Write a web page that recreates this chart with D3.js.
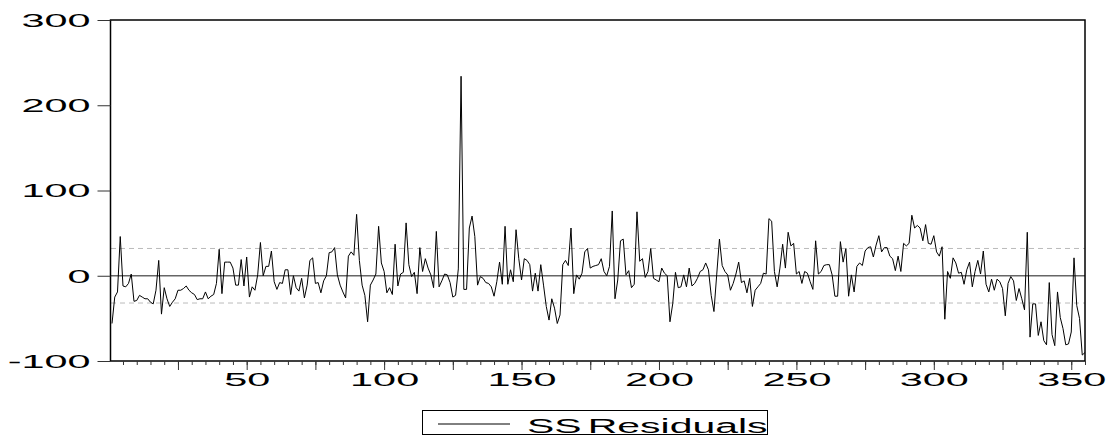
<!DOCTYPE html>
<html>
<head>
<meta charset="utf-8">
<script src="https://cdn.jsdelivr.net/npm/d3@7"></script>
<style>
  body { margin: 0; background: #fff; }
  svg text { font-family: "Liberation Sans", Arial, sans-serif; fill: #000; }
</style>
</head>
<body>
<div id="chart"></div>
<script>
let residuals = [
  -56, -25, -19, 46, -12, -13, -9, 2, -30, -29, -23, -25, -27, -27, -31, -33, -17, 18, -45, -14,
  -27, -36, -31, -27, -17, -17, -15, -12, -17, -20, -22, -28, -27, -27, -19, -27, -24, -22, -9, 31,
  -21, 16, 16, 16, 9, -11, -11, 19, -12, 22, -25, -13, -17, 1, 39, 0, 11, 11, 29, -7,
  -16, -8, -9, 7, 7, -22, 0, -14, -18, -3, -26, -11, 18, 21, -9, -8, -20, -6, 0, 27,
  28, 33, 1, -11, -19, -26, 23, 28, 24, 72, 18, -11, -23, -54, -11, -5, 2, 58, 15, 5,
  -20, -14, -22, 37, -12, 2, 4, 62, 13, -1, 4, -21, 33, 5, 20, 9, 1, -14, 52, -13,
  -6, 2, 1, -8, -25, -23, 8, 234, -16, -16, 56, 70, 46, -11, -1, -3, -8, -9, -13, -24,
  -7, 16, -10, 58, -10, 7, -7, 54, 20, -5, 20, 18, 13, -18, 3, -18, 13, -11, -36, -52,
  -27, -38, -56, -46, 13, 18, 12, 56, -21, 1, -4, 3, 28, 32, 9, 11, 12, 13, 20, 5,
  0, 11, 76, -27, -5, 41, 43, 1, 6, -14, -10, 75, 17, 20, -2, 5, 32, -3, -5, -7,
  9, 3, 0, -54, -33, 4, -14, -13, 1, -13, 9, -12, -9, -3, 5, 7, 15, 7, -23, -42,
  1, 43, 12, 5, 1, -17, -9, 2, 16, -8, -6, -20, -3, -36, -17, -13, -9, 3, 2, 67,
  64, 5, -13, 9, 37, 9, 51, 35, 38, 2, 5, -9, 5, 3, -7, -16, 41, 2, 5, 12,
  13, 13, 1, -24, -24, 40, 16, 32, -24, 1, -19, 11, 15, 12, 29, 33, 34, 22, 36, 47,
  28, 33, 33, 23, 20, 6, 23, 5, 38, 35, 38, 71, 56, 59, 56, 41, 60, 38, 37, 47,
  28, 23, 34, -51, 5, -3, 21, 15, 3, 4, -10, 7, 16, -13, 5, 18, 2, 29, -10, -19,
  -4, -17, -4, -7, -15, -47, -9, -1, -6, -29, -15, -27, -40, 51, -72, -33, -33, -70, -54, -76,
  -81, -8, -69, -82, -19, -49, -62, -81, -80, -66, 21, -35, -50, -93, -90
];

let yTicks = [-100, 0, 100, 200, 300];
let xLabelTicks = [50, 100, 150, 200, 250, 300, 350];
let seBand = [-32, 32];
let legendLabel = "SS Residuals";

// page and plot frame
let W = 1117, H = 439;
let frame = {left: 111, right: 1085, top: 20, bottom: 361};
let stretch = 2.3;   // wide EViews lettering

let svg = d3.select("#chart")
    .append("svg")
    .attr("width", W)
    .attr("height", H);

let x = d3.scaleLinear()
    .domain([1, residuals.length])
    .range([frame.left + 1, frame.right]);

let y = d3.scaleLinear()
    .domain([-100, 300])
    .range([frame.bottom, frame.top]);

// zero line
svg.append("line")
    .attr("x1", frame.left).attr("x2", frame.right)
    .attr("y1", y(0)).attr("y2", y(0))
    .attr("stroke", "#666")
    .attr("stroke-width", 1.6);

// +/- one standard error lines
svg.selectAll(".se")
    .data(seBand)
    .enter()
    .append("line")
    .attr("class", "se")
    .attr("x1", frame.left).attr("x2", frame.right)
    .attr("y1", d => y(d)).attr("y2", d => y(d))
    .attr("stroke", "#bbb")
    .attr("stroke-width", 1)
    .attr("stroke-dasharray", "5,4");

// the residual line
svg.append("path")
    .datum(residuals)
    .attr("fill", "none")
    .attr("stroke", "#000")
    .attr("stroke-width", 1)
    .attr("d", d3.line()
        .x((d, i) => x(i + 1))
        .y(d => y(d)));

// frame
svg.append("rect")
    .attr("x", frame.left - 0.5)
    .attr("y", frame.top)
    .attr("width", frame.right - frame.left + 0.5)
    .attr("height", frame.bottom - frame.top)
    .attr("fill", "none")
    .attr("stroke", "#000")
    .attr("stroke-width", 1.5);

// Y axis
let yAxis = svg.append("g")
    .attr("transform", "translate(" + (frame.left - 0.5) + ",0)")
    .call(d3.axisLeft(y).tickValues(yTicks).tickSize(13).tickFormat(d => String(d)));
yAxis.select(".domain").remove();
yAxis.selectAll("line").attr("stroke", "#333");
yAxis.selectAll("text")
    .attr("x", 0)
    .attr("dy", "0.36em")
    .attr("transform", "translate(-20,0) scale(" + stretch + ",1)")
    .style("font-size", "18px");

// X axis, minor ticks every 5
let xMinor = svg.append("g")
    .attr("transform", "translate(0," + frame.bottom + ")")
    .call(d3.axisBottom(x).tickValues(d3.range(5, residuals.length + 1, 5)).tickSize(4).tickFormat(""));
xMinor.select(".domain").remove();
xMinor.selectAll("line").attr("stroke", "#333");

// X axis, major ticks every 25 with labels every 50
let xMajor = svg.append("g")
    .attr("transform", "translate(0," + frame.bottom + ")")
    .call(d3.axisBottom(x).tickValues(d3.range(25, residuals.length + 1, 25)).tickSize(9)
        .tickFormat(d => xLabelTicks.includes(d) ? String(d) : ""));
xMajor.select(".domain").remove();
xMajor.selectAll("line").attr("stroke", "#333");
xMajor.selectAll("text")
    .attr("y", 25)
    .attr("dy", null)
    .attr("transform", "scale(" + stretch + ",1)")
    .style("font-size", "18px");

// legend
svg.append("rect")
    .attr("x", 422.5).attr("y", 410.5)
    .attr("width", 345).attr("height", 24)
    .attr("fill", "#fff")
    .attr("stroke", "#000")
    .attr("stroke-width", 1);
svg.append("line")
    .attr("x1", 438).attr("x2", 510)
    .attr("y1", 424).attr("y2", 424)
    .attr("stroke", "#000")
    .attr("stroke-width", 1);
svg.append("text")
    .attr("transform", "translate(527,433) scale(2.1,1)")
    .style("font-size", "19.5px")
    .style("word-spacing", "-2.5px")
    .text(legendLabel);
</script>
</body>
</html>
